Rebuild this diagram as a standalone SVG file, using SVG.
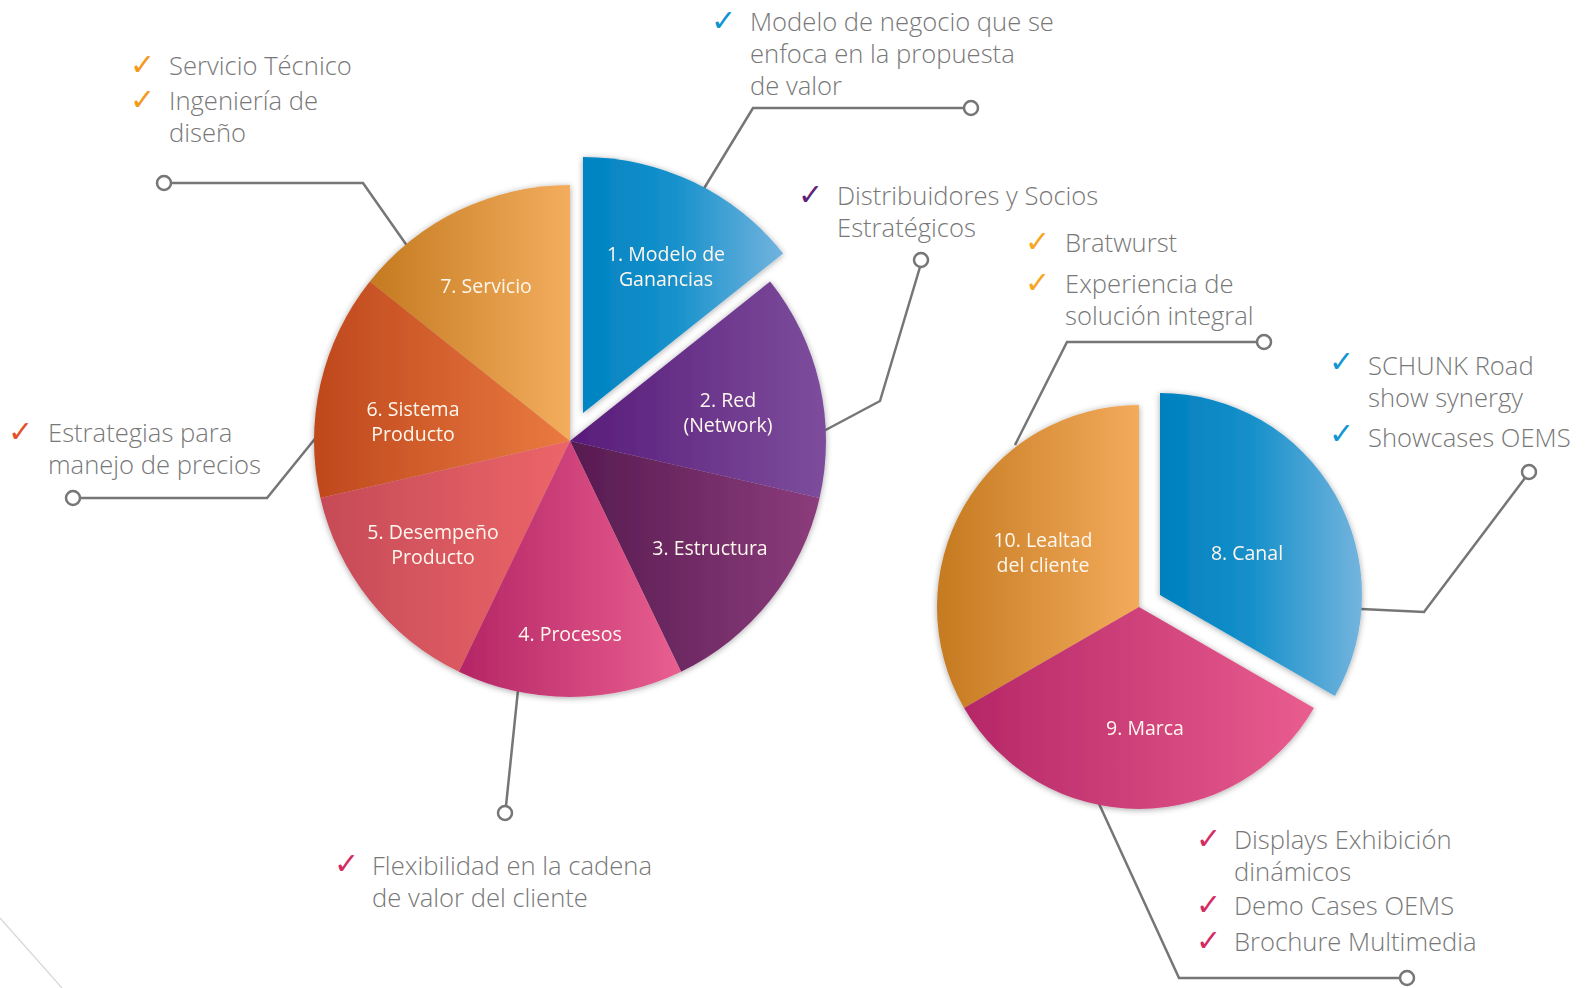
<svg xmlns="http://www.w3.org/2000/svg" width="1593" height="988" viewBox="0 0 1593 988">
<defs>
<style>
.note{font-family:"Open Sans","Noto Sans","Liberation Sans",sans-serif;font-weight:300;font-size:25.6px;fill:#787878}
.lbl{font-family:"Open Sans","Noto Sans","Liberation Sans",sans-serif;font-weight:400;font-size:19.5px;fill:#fff7ee;text-anchor:middle}
.chk{font-family:"DejaVu Sans",sans-serif;font-size:30px}
.con{fill:none;stroke:#767676;stroke-width:2.5;stroke-linejoin:miter}
.dot{fill:#fff;stroke:#767676;stroke-width:2.5}
</style>
<filter id="sh" x="-10%" y="-10%" width="120%" height="120%">
<feDropShadow dx="0" dy="1" stdDeviation="3" flood-color="#000" flood-opacity="0.35"/>
</filter>
<linearGradient id="g1" x1="0" y1="0" x2="1" y2="0"><stop offset="0" stop-color="#0083c2"/><stop offset="0.45" stop-color="#1591cb"/><stop offset="1" stop-color="#72b3de"/></linearGradient>
<linearGradient id="g2" x1="0" y1="0" x2="1" y2="0"><stop offset="0" stop-color="#581c7a"/><stop offset="1" stop-color="#7d4d9c"/></linearGradient>
<linearGradient id="g3" x1="0" y1="0" x2="1" y2="0"><stop offset="0" stop-color="#561b4f"/><stop offset="1" stop-color="#8c3c7c"/></linearGradient>
<linearGradient id="g4" x1="0" y1="0" x2="1" y2="0"><stop offset="0" stop-color="#b42565"/><stop offset="1" stop-color="#e95f90"/></linearGradient>
<linearGradient id="g5" x1="0" y1="0" x2="1" y2="0"><stop offset="0" stop-color="#c64a58"/><stop offset="1" stop-color="#ec6668"/></linearGradient>
<linearGradient id="g6" x1="0" y1="0" x2="1" y2="0"><stop offset="0" stop-color="#bf481d"/><stop offset="1" stop-color="#ea7a40"/></linearGradient>
<linearGradient id="g7" x1="0" y1="0" x2="1" y2="0"><stop offset="0" stop-color="#c47a20"/><stop offset="1" stop-color="#f3ad5d"/></linearGradient>
<linearGradient id="g8" x1="0" y1="0" x2="1" y2="0"><stop offset="0" stop-color="#0080bf"/><stop offset="0.45" stop-color="#1590ca"/><stop offset="1" stop-color="#74b4de"/></linearGradient>
<linearGradient id="g9" x1="0" y1="0" x2="1" y2="0"><stop offset="0" stop-color="#b52767"/><stop offset="1" stop-color="#e95d8f"/></linearGradient>
<linearGradient id="g10" x1="0" y1="0" x2="1" y2="0"><stop offset="0" stop-color="#c57a20"/><stop offset="1" stop-color="#f3ab5b"/></linearGradient>
</defs>
<rect width="1593" height="988" fill="#fff"/>
<line x1="0" y1="918" x2="62" y2="988" stroke="#d6d6d6" stroke-width="1.2"/>

<g id="connectors">
<polyline class="con" points="171,183 363,183 410,250"/>
<polyline class="con" points="964,108 753,108 700,195"/>
<polyline class="con" points="920,267 880,401 820,433"/>
<polyline class="con" points="1257,342 1067,342 1015,445"/>
<polyline class="con" points="1525,478 1424,612 1340,608"/>
<polyline class="con" points="80,498 267,498 318,435"/>
<polyline class="con" points="506,806 518,690"/>
<polyline class="con" points="1400,978 1179,978 1095,795"/>
<circle class="dot" cx="164" cy="183" r="7"/>
<circle class="dot" cx="971" cy="108" r="7"/>
<circle class="dot" cx="921" cy="260" r="7"/>
<circle class="dot" cx="1264" cy="342" r="7"/>
<circle class="dot" cx="1529" cy="472" r="7"/>
<circle class="dot" cx="73" cy="498" r="7"/>
<circle class="dot" cx="505" cy="813" r="7"/>
<circle class="dot" cx="1407" cy="978" r="7"/>
</g>

<g id="pie-main" filter="url(#sh)">
<g id="s7"><path d="M570,441 L369.85,281.39 A256,256 0 0 1 570,185 Z" fill="url(#g7)"/><text class="lbl" x="486" y="293">7. Servicio</text></g>
<g id="s6"><path d="M570,441 L320.42,497.97 A256,256 0 0 1 369.85,281.39 Z" fill="url(#g6)"/><text class="lbl" x="413" y="416">6. Sistema</text><text class="lbl" x="413" y="441">Producto</text></g>
<g id="s5"><path d="M570,441 L458.93,671.65 A256,256 0 0 1 320.42,497.97 Z" fill="url(#g5)"/><text class="lbl" x="433" y="539">5. Desempeño</text><text class="lbl" x="433" y="564">Producto</text></g>
<g id="s3"><path d="M570,441 L819.58,497.97 A256,256 0 0 1 681.07,671.65 Z" fill="url(#g3)"/><text class="lbl" x="710" y="555">3. Estructura</text></g>
<g id="s4"><path d="M570,441 L681.07,671.65 A256,256 0 0 1 458.93,671.65 Z" fill="url(#g4)"/><text class="lbl" x="570" y="641">4. Procesos</text></g>
<g id="s2"><path d="M570,441 L770.15,281.39 A256,256 0 0 1 819.58,497.97 Z" fill="url(#g2)"/><text class="lbl" x="728" y="407">2. Red</text><text class="lbl" x="728" y="432">(Network)</text></g>
<g id="s1"><path d="M583,413 L583,157 A256,256 0 0 1 783.15,253.39 Z" fill="url(#g1)"/><text class="lbl" x="666" y="261">1. Modelo de</text><text class="lbl" x="666" y="286">Ganancias</text></g>
</g>

<g id="pie-small" filter="url(#sh)">
<g id="s10"><path d="M1139,607 L964.06,708 A202,202 0 0 1 1139,405 Z" fill="url(#g10)"/><text class="lbl" x="1043" y="547">10. Lealtad</text><text class="lbl" x="1043" y="572">del cliente</text></g>
<g id="s9"><path d="M1139,607 L1313.94,708 A202,202 0 0 1 964.06,708 Z" fill="url(#g9)"/><text class="lbl" x="1145" y="735">9. Marca</text></g>
<g id="s8"><path d="M1160,595 L1160,393 A202,202 0 0 1 1334.94,696 Z" fill="url(#g8)"/><text class="lbl" x="1247" y="560">8. Canal</text></g>
</g>

<g id="note-servicio">
<text class="chk" x="130" y="75" fill="#f39a1e">✓</text>
<text class="chk" x="130" y="110" fill="#f39a1e">✓</text>
<text class="note" x="169" y="75">Servicio Técnico</text>
<text class="note" x="169" y="110">Ingeniería de</text>
<text class="note" x="169" y="142">diseño</text>
</g>
<g id="note-modelo">
<text class="chk" x="711" y="31" fill="#0f93d2">✓</text>
<text class="note" x="750" y="31">Modelo de negocio que se</text>
<text class="note" x="750" y="63">enfoca en la propuesta</text>
<text class="note" x="750" y="95">de valor</text>
</g>
<g id="note-red">
<text class="chk" x="798" y="205" fill="#5e2378">✓</text>
<text class="note" x="837" y="205">Distribuidores y Socios</text>
<text class="note" x="837" y="237">Estratégicos</text>
</g>
<g id="note-lealtad">
<text class="chk" x="1025" y="252" fill="#f5a623">✓</text>
<text class="chk" x="1025" y="293" fill="#f5a623">✓</text>
<text class="note" x="1065" y="252">Bratwurst</text>
<text class="note" x="1065" y="293">Experiencia de</text>
<text class="note" x="1065" y="325">solución integral</text>
</g>
<g id="note-canal">
<text class="chk" x="1329" y="372" fill="#1195d3">✓</text>
<text class="chk" x="1329" y="444" fill="#1195d3">✓</text>
<text class="note" x="1368" y="375">SCHUNK Road</text>
<text class="note" x="1368" y="407">show synergy</text>
<text class="note" x="1368" y="447">Showcases OEMS</text>
</g>
<g id="note-sistema">
<text class="chk" x="8" y="442" fill="#e2532b">✓</text>
<text class="note" x="48" y="442">Estrategias para</text>
<text class="note" x="48" y="474">manejo de precios</text>
</g>
<g id="note-procesos">
<text class="chk" x="334" y="874" fill="#d42b62">✓</text>
<text class="note" x="372" y="875">Flexibilidad en la cadena</text>
<text class="note" x="372" y="907">de valor del cliente</text>
</g>
<g id="note-marca">
<text class="chk" x="1196" y="849" fill="#d42b62">✓</text>
<text class="chk" x="1196" y="915" fill="#d42b62">✓</text>
<text class="chk" x="1196" y="951" fill="#d42b62">✓</text>
<text class="note" x="1234" y="849">Displays Exhibición</text>
<text class="note" x="1234" y="881">dinámicos</text>
<text class="note" x="1234" y="915">Demo Cases OEMS</text>
<text class="note" x="1234" y="951">Brochure Multimedia</text>
</g>
</svg>
